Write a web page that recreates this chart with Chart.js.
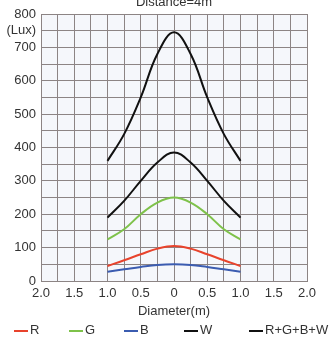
<!DOCTYPE html>
<html>
<head>
<meta charset="utf-8">
<script src="https://cdn.jsdelivr.net/npm/chart.js@4/dist/chart.umd.min.js"></script>
<style>
  body { margin: 0; background: #fff; font-family: "Liberation Sans", Arial, sans-serif; }
  #wrap { position: relative; width: 331px; height: 339px; }
  .leg { position: absolute; top: 322px; font-size: 13px; color: #333; white-space: nowrap; }
  .leg i { display: inline-block; width: 14px; height: 2px; vertical-align: middle; margin-right: 2px; }
</style>
</head>
<body>
<div id="wrap">
  <canvas id="c" width="331" height="339"></canvas>
  <div id="legend"></div>
</div>
<script>
// diametre en metres
const diameter = [-1, -0.75, -0.5, -0.25, 0, 0.25, 0.5, 0.75, 1];

// Lux par canal
const red   = [45, 62, 80, 97, 105, 97, 80, 62, 45];
const green = [125, 155, 200, 235, 250, 235, 200, 155, 125];
const blue  = [28, 35, 42, 48, 50, 48, 42, 35, 28];
const white = [190, 240, 300, 355, 385, 355, 300, 240, 190];
const rgbw  = [360, 440, 550, 680, 745, 680, 550, 440, 360];

const seriesNames = ["R", "G", "B", "W", "R+G+B+W"];
const seriesColors = ["#e8432c", "#7ec24a", "#3b5cb0", "#111111", "#111111"];
const legendX = [14, 69, 124, 184, 249];

const toPts = arr => arr.map((v, i) => ({ x: diameter[i], y: v }));
const allData = [red, green, blue, white, rgbw];

const bgPlugin = {
  id: "bg",
  beforeDraw(chart) {
    const { ctx, chartArea: a } = chart;
    ctx.save();
    ctx.fillStyle = "#f5f7fb";
    ctx.fillRect(a.left, a.top, a.right - a.left, a.bottom - a.top);
    ctx.fillStyle = "#333";
    ctx.font = "13px 'Liberation Sans', Arial, sans-serif";
    ctx.textAlign = "center";
    ctx.fillText("Distance=4m", (a.left + a.right) / 2, 6);
    ctx.restore();
  }
};

new Chart(document.getElementById("c"), {
  type: "line",
  data: {
    datasets: allData.map((d, i) => ({
      label: seriesNames[i],
      data: toPts(d),
      borderColor: seriesColors[i],
      borderWidth: 2,
      pointRadius: 0,
      tension: 0.4,
      fill: false
    }))
  },
  options: {
    responsive: false,
    animation: false,
    layout: { padding: { left: 0, right: 24, top: 14, bottom: 20 } },
    plugins: { legend: { display: false }, tooltip: { enabled: false } },
    scales: {
      x: {
        type: "linear", min: -2, max: 2,
        afterFit: s => { s.height = 38; },
        grid: { color: "#8c8484", drawTicks: false },
        border: { color: "#8c8484" },
        ticks: {
          stepSize: 0.25, padding: 5, color: "#333", autoSkip: false, maxRotation: 0,
          font: { size: 13, family: "'Liberation Sans', Arial" },
          callback: v => {
            if (Math.abs(v * 2 - Math.round(v * 2)) > 1e-6) return "";
            return v === 0 ? "0" : Math.abs(v).toFixed(1);
          }
        },
        title: { display: true, text: "Diameter(m)", color: "#333", padding: 0,
                 font: { size: 13, family: "'Liberation Sans', Arial" } }
      },
      y: {
        min: 0, max: 800,
        afterFit: s => { s.width = 41; },
        grid: { color: "#8c8484", drawTicks: false },
        border: { color: "#8c8484" },
        ticks: {
          stepSize: 50, padding: 5, color: "#333", autoSkip: false,
          font: { size: 13, family: "'Liberation Sans', Arial" },
          callback: v => v === 750 ? "(Lux)" : (v % 100 === 0 ? v : "")
        }
      }
    }
  },
  plugins: [bgPlugin]
});

const legend = document.getElementById("legend");
seriesNames.forEach((n, i) => {
  const s = document.createElement("span");
  s.className = "leg";
  s.style.left = legendX[i] + "px";
  s.innerHTML = `<i style="background:${seriesColors[i]}"></i>${n}`;
  legend.appendChild(s);
});
</script>
</body>
</html>
